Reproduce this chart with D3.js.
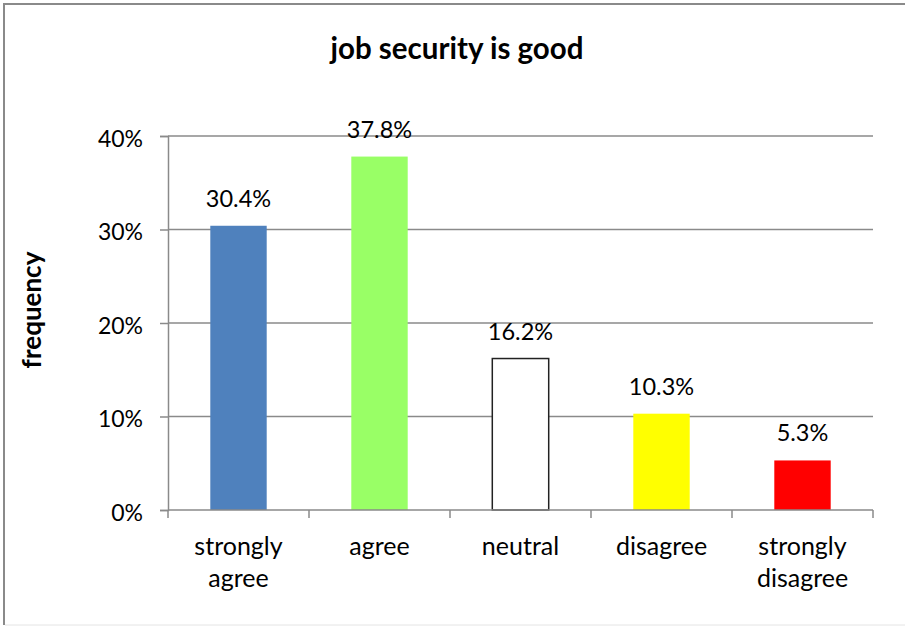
<!DOCTYPE html>
<meta charset="utf-8">
<style>
  body { margin: 0; background: #fff; }
  text { font-family: "Lato", "Liberation Sans", sans-serif; fill: #000; }
</style>
<svg width="905" height="626"></svg>
<script src="https://d3js.org/d3.v7.min.js"></script>
<script>

var categories = ["strongly agree", "agree", "neutral", "disagree", "strongly disagree"];
var values = [30.4, 37.8, 16.2, 10.3, 5.3];
var barColors = ["#4f81bd", "#99ff66", "#ffffff", "#ffff00", "#ff0000"];
var yTicks = [0, 10, 20, 30, 40];
var title = "job security is good";
var yTitle = "frequency";

var svg = d3.select("svg"),
    width = +svg.attr("width"),
    height = +svg.attr("height");

var margin = {top: 136, right: 32, bottom: 116, left: 168};

// outer frame (cropped at right, faint at bottom)
svg.append("line").attr("x1", 4).attr("x2", 4).attr("y1", 3).attr("y2", 625)
    .attr("stroke", "#8a8a8a").attr("stroke-width", 2);
svg.append("line").attr("x1", 3).attr("x2", width).attr("y1", 4).attr("y2", 4)
    .attr("stroke", "#8a8a8a").attr("stroke-width", 2);
svg.append("line").attr("x1", 5).attr("x2", width).attr("y1", 625).attr("y2", 625)
    .attr("stroke", "#e4e4e4").attr("stroke-width", 1);

var x = d3.scaleBand()
    .domain(categories)
    .range([margin.left, width - margin.right])
    .paddingInner(0.6)
    .paddingOuter(0.3);

var y = d3.scaleLinear()
    .domain([0, 40])
    .range([height - margin.bottom, margin.top]);

// gridlines + y axis
var yAxis = svg.append("g")
    .attr("transform", "translate(" + margin.left + ",0)")
    .call(d3.axisLeft(y).tickValues(yTicks).tickFormat(function(d) { return d + "%"; })
      .tickSize(8).tickPadding(17));
yAxis.select(".domain").attr("stroke", "#8a8a8a").attr("stroke-width", 1.5);
yAxis.selectAll(".tick line").attr("stroke", "#8a8a8a").attr("stroke-width", 1.5);
yAxis.selectAll(".tick text").style("font-size", "23px").attr("dy", "0.45em");

svg.append("g")
  .selectAll("line")
  .data(yTicks.filter(function(d) { return d > 0; }))
  .enter().append("line")
    .attr("x1", margin.left).attr("x2", width - margin.right)
    .attr("y1", function(d) { return y(d); }).attr("y2", function(d) { return y(d); })
    .attr("stroke", "#8a8a8a").attr("stroke-width", 1.5);

// bars
svg.append("g")
  .selectAll("rect")
  .data(values)
  .enter().append("rect")
    .attr("x", function(d, i) { return x(categories[i]); })
    .attr("y", function(d) { return y(d); })
    .attr("width", x.bandwidth())
    .attr("height", function(d) { return y(0) - y(d); })
    .attr("fill", function(d, i) { return barColors[i]; })
    .attr("stroke", function(d, i) { return i == 2 ? "#222" : "none"; })
    .attr("stroke-width", 1.5);

// value labels
svg.append("g")
  .selectAll("text")
  .data(values)
  .enter().append("text")
    .attr("x", function(d, i) { return x(categories[i]) + x.bandwidth() / 2; })
    .attr("y", function(d) { return y(d) - 19; })
    .attr("text-anchor", "middle")
    .style("font-size", "23.5px")
    .text(function(d) { return d.toFixed(1) + "%"; });

// x axis with boundary ticks
var step = x.step();
var bounds = d3.range(categories.length + 1).map(function(i) { return margin.left + i * step; });
svg.append("line")
    .attr("x1", margin.left).attr("x2", width - margin.right)
    .attr("y1", y(0)).attr("y2", y(0))
    .attr("stroke", "#8a8a8a").attr("stroke-width", 1.5);
svg.append("g")
  .selectAll("line")
  .data(bounds)
  .enter().append("line")
    .attr("x1", function(d) { return d; }).attr("x2", function(d) { return d; })
    .attr("y1", y(0)).attr("y2", y(0) + 8)
    .attr("stroke", "#8a8a8a").attr("stroke-width", 1.5);

// category labels (two lines where needed)
var catText = svg.append("g")
  .selectAll("text")
  .data(categories)
  .enter().append("text")
    .attr("text-anchor", "middle")
    .attr("transform", function(d) { return "translate(" + (x(d) + x.bandwidth() / 2) + "," + 555 + ")"; })
    .style("font-size", "25px");
catText.each(function(d) {
  var words = d.split(" ");
  var t = d3.select(this);
  words.forEach(function(w, j) {
    t.append("tspan").attr("x", 0).attr("y", j * 32).text(w);
  });
});

// title
svg.append("text")
    .attr("x", 457).attr("y", 59)
    .attr("text-anchor", "middle")
    .style("font-size", "29.5px").style("font-weight", "bold")
    .text(title);

// y title
svg.append("text")
    .attr("transform", "translate(41,310) rotate(-90)")
    .attr("text-anchor", "middle")
    .style("font-size", "26px").style("font-weight", "bold")
    .text(yTitle);

</script>
